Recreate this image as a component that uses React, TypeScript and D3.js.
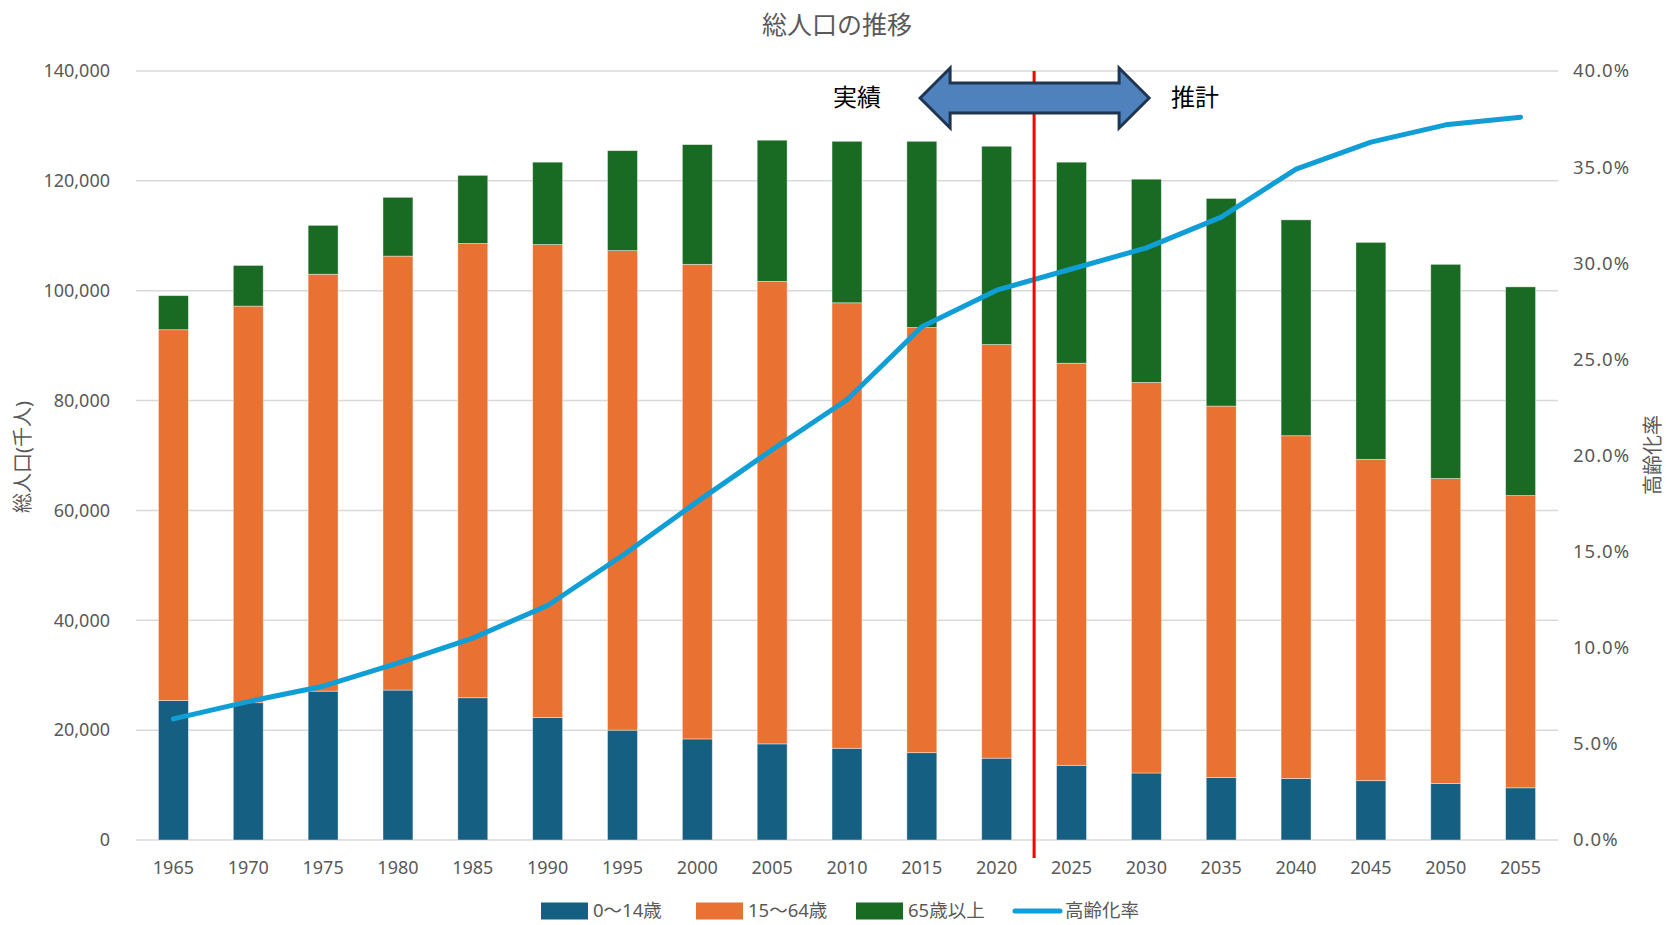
import React from 'react'
import { scaleBand, scaleLinear, line, format } from 'd3'

const years = ['1965', '1970', '1975', '1980', '1985', '1990', '1995', '2000', '2005', '2010',
  '2015', '2020', '2025', '2030', '2035', '2040', '2045', '2050', '2055']

// 千人
const age0to14 = [25400, 25000, 27100, 27300, 25900, 22300, 20000, 18400, 17500, 16700,
  15900, 14900, 13600, 12200, 11400, 11200, 10800, 10300, 9500]
const age15to64 = [67500, 72200, 75900, 79000, 82700, 86100, 87300, 86400, 84200, 81100,
  77400, 75300, 73200, 71100, 67600, 62400, 58500, 55500, 53200]
const age65over = [6200, 7400, 8900, 10700, 12400, 15000, 18200, 21800, 25700, 29400,
  33900, 36100, 36600, 37000, 37800, 39300, 39500, 39000, 38000]

const agingRate = [6.3, 7.2, 8.0, 9.2, 10.5, 12.2, 14.8, 17.6, 20.3, 22.9,
  26.7, 28.6, 29.7, 30.8, 32.4, 34.9, 36.3, 37.2, 37.6]

const leftTicks = [0, 20000, 40000, 60000, 80000, 100000, 120000, 140000]
const rightTicks = [0, 5, 10, 15, 20, 25, 30, 35, 40]

const seriesNames = ['0～14歳', '15～64歳', '65歳以上', '高齢化率']
const colors = ['#156082', '#E97132', '#196B24', '#0F9ED5']

function App() {
  const width = 1666,
    height = 925
  const left = 136,
    right = 1558,
    top = 71,
    bottom = 840
  const font = "'Segoe UI', 'Noto Sans', 'Noto Sans CJK JP', sans-serif"
  const textColor = '#595959'

  const x = scaleBand().domain(years).range([left, right]).paddingInner(0.6).paddingOuter(0.3)
  const y = scaleLinear().domain([0, 140000]).range([bottom, top])
  const yr = scaleLinear().domain([0, 40]).range([bottom, top])
  const fmt = format(',')

  const stacks = years.map((yr_, i) => {
    const a = age0to14[i], b = age15to64[i], c = age65over[i]
    return [[0, a], [a, a + b], [a + b, a + b + c]]
  })

  const cx = (d: string) => (x(d) as number) + x.bandwidth() / 2
  const linePath = line<number>()
    .x((d, i) => cx(years[i]))
    .y(d => yr(d))(agingRate)

  // 実績/推計 boundary between 2020 and 2025
  const divX = (cx('2020') + cx('2025')) / 2
  const arrowY = 98
  const arrow = [
    [divX - 114, arrowY],
    [divX - 84, arrowY - 30],
    [divX - 84, arrowY - 15],
    [divX + 85, arrowY - 15],
    [divX + 85, arrowY - 30],
    [divX + 115, arrowY],
    [divX + 85, arrowY + 30],
    [divX + 85, arrowY + 15],
    [divX - 84, arrowY + 15],
    [divX - 84, arrowY + 30],
  ].map(p => p.join(',')).join(' ')

  const legendX = [541, 696, 856, 1013]
  const legendY = 911

  return (
    <svg width={width} height={height} style={{ position: 'absolute', left: 0, top: 0, background: '#fff' }} fontFamily={font}>
      <text x={837} y={25} dy='0.35em' textAnchor='middle' fontSize={25} fill={textColor}>総人口の推移</text>

      {leftTicks.map(t => (
        <g key={t}>
          <line x1={left} x2={right} y1={y(t)} y2={y(t)} stroke='#d9d9d9' strokeWidth={1.5} />
          <text x={110} y={y(t)} dy='0.35em' textAnchor='end' fontSize={18} fill={textColor}>{fmt(t)}</text>
        </g>
      ))}
      {rightTicks.map(t => (
        <text key={t} x={1573} y={yr(t)} dy='0.35em' fontSize={18.5} letterSpacing={1} fill={textColor}>{t.toFixed(1)}%</text>
      ))}

      <text transform={`translate(23,457) rotate(-90)`} dy='0.35em' textAnchor='middle' fontSize={20} fill={textColor}>総人口(千人)</text>
      <text transform={`translate(1653,455) rotate(-90)`} dy='0.35em' textAnchor='middle' fontSize={20} fill={textColor}>高齢化率</text>

      {years.map((d, i) => (
        <g key={d}>
          {stacks[i].map((s, j) => (
            <rect key={j} x={x(d)} y={y(s[1])} width={x.bandwidth()} height={y(s[0]) - y(s[1])}
              fill={colors[j]} stroke='#ffffff' strokeOpacity={0.5} strokeWidth={0.8} />
          ))}
          <text x={cx(d)} y={868} dy='0.35em' textAnchor='middle' fontSize={18} fill={textColor}>{d}</text>
        </g>
      ))}

      <path d={linePath || ''} fill='none' stroke={colors[3]} strokeWidth={5} strokeLinejoin='round' strokeLinecap='round' />

      <line x1={divX} x2={divX} y1={top} y2={858} stroke='#ff0000' strokeWidth={3} />

      <polygon points={arrow} fill='#4F81BD' stroke='#1F3550' strokeWidth={3} strokeLinejoin='miter' />
      <text x={857} y={arrowY} dy='0.35em' textAnchor='middle' fontSize={24} fill='#000'>実績</text>
      <text x={1195} y={arrowY} dy='0.35em' textAnchor='middle' fontSize={24} fill='#000'>推計</text>

      {seriesNames.map((n, i) => (
        <g key={n}>
          {i < 3
            ? <rect x={legendX[i]} y={legendY - 8.5} width={47} height={17} fill={colors[i]} />
            : <line x1={legendX[i] + 2} x2={legendX[i] + 47} y1={legendY} y2={legendY} stroke={colors[i]} strokeWidth={5} strokeLinecap='round' />}
          <text x={legendX[i] + 52} y={legendY} dy='0.33em' fontSize={18.5} fill={textColor}>{n}</text>
        </g>
      ))}
    </svg>
  )
}

export default App
